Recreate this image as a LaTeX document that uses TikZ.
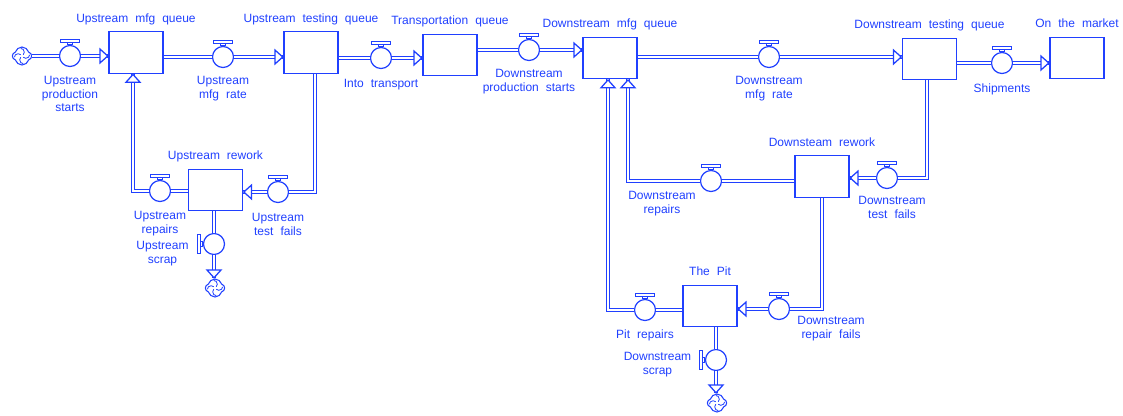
\documentclass[tikz,border=0pt]{standalone}
\usepackage{fontspec}
\setmainfont{Liberation Sans}[WordSpace=2.1]
\usetikzlibrary{arrows.meta,positioning,shapes.symbols,decorations.markings}
\definecolor{flowblue}{RGB}{32,64,255}

\begin{document}
\begin{tikzpicture}[
    x=0.75pt, y=-0.75pt,
    every node/.style={text=flowblue},
    stock/.style={draw=flowblue, line width=0.9pt, minimum width=40.5pt,
                minimum height=31pt, inner sep=0pt},
    valve/.style={circle, draw=flowblue, fill=white, line width=0.9pt,
                minimum size=15.75pt, inner sep=0pt},
    source/.style={cloud, cloud puffs=4, aspect=1, draw=flowblue, line width=0.8pt,
                minimum width=14.5pt, minimum height=13.5pt, inner sep=0pt,
                path picture={\foreach \a in {45,135,225,315}
                  \draw[flowblue, line width=0.6pt] ([shift={(\a:1.3pt)}]path picture bounding box.center)
                    arc[start angle=\a-90, delta angle=130, radius=2.8pt];}},
    lbl/.style={font=\fontsize{9}{10.1}\selectfont, align=center, inner sep=0pt},
    stocklbl/.style={lbl, text height=6.75pt, text depth=2.25pt},
    pipe/.style={draw=flowblue, line width=0.75pt, double=white, double distance=1.6pt},
    tiphead/.style={draw=flowblue, fill=white, line width=0.95pt, line join=miter},
    inflow/.style={pipe, postaction={decorate, decoration={markings,
                mark=at position 1 with {\draw[tiphead] (-0.5pt,0pt) -- (-6.3pt,5.2pt) -- (-6.3pt,-5.2pt) -- cycle;}}}},
    handle/.style={draw=flowblue, line width=0.7pt, fill=white}
]
\useasboundingbox (0,0) rectangle (1123,415);

% stocks
\node[stock] (umq) at (136,52.5) {};
\node[stock] (ust) at (311,52.5) {};
\node[stock] (tq)  at (450,55) {};
\node[stock] (dmq) at (610,58) {};
\node[stock] (dtq) at (929.5,59) {};
\node[stock] (otm) at (1077,58) {};
\node[stock] (urw) at (215.5,190) {};
\node[stock] (drw) at (822,176.5) {};
\node[stock] (pit) at (710,306) {};

\node[stocklbl, above=4.4pt of umq] {Upstream mfg queue};
\node[stocklbl, above=4.4pt of ust] {Upstream testing queue};
\node[stocklbl, above=4.4pt of tq]  {Transportation queue};
\node[stocklbl, above=4.4pt of dmq] {Downstream mfg queue};
\node[stocklbl, above=4.4pt of dtq] {Downstream testing queue};
\node[stocklbl, above=4.4pt of otm] {On the market};
\node[stocklbl, above=4.4pt of urw] {Upstream rework};
\node[stocklbl, above=4.4pt of drw] {Downsteam rework};
\node[stocklbl, above=4.4pt of pit] {The Pit};

% clouds
\node[source] (src)   at (22,56) {};
\node[source] (sink1) at (215,288) {};
\node[source] (sink2) at (717,403) {};

% valves
\node[valve] (ups) at (70,56) {};
\node[valve] (umr) at (223,57) {};
\node[valve] (itr) at (381,58) {};
\node[valve] (dps) at (529,50) {};
\node[valve] (dmr) at (769,57) {};
\node[valve] (shp) at (1002,63) {};
\node[valve] (urp) at (160,191) {};
\node[valve] (utf) at (278,192) {};
\node[valve] (usc) at (214,244) {};
\node[valve] (drp) at (711,181) {};
\node[valve] (dtf) at (887,178) {};
\node[valve] (drf) at (779,309) {};
\node[valve] (prp) at (645,310) {};
\node[valve] (dsc) at (716,360) {};

\foreach \v in {ups,umr,itr,dps,dmr,shp,urp,utf,drp,dtf,drf,prp}
  \draw[handle] ([xshift=-1.9pt]\v.north) rectangle ([xshift=1.9pt, yshift=2.2pt]\v.north)
                ([xshift=-7.1pt, yshift=2.2pt]\v.north) rectangle ([xshift=7.1pt, yshift=4.2pt]\v.north);
\foreach \v in {usc,dsc}
  \draw[handle] ([yshift=-1.9pt]\v.west) rectangle ([xshift=-2.2pt, yshift=1.9pt]\v.west)
                ([xshift=-2.2pt, yshift=-7.1pt]\v.west) rectangle ([xshift=-4.2pt, yshift=7.1pt]\v.west);

\node[lbl, below=6.8pt of ups] {Upstream\\production\\starts};
\node[lbl, below=6.1pt of umr] {Upstream\\mfg rate};
\node[lbl, below=7.6pt of itr] {Into transport};
\node[lbl, below=6.1pt of dps] {Downstream\\production starts};
\node[lbl, below=6.1pt of dmr] {Downstream\\mfg rate};
\node[lbl, below=6.8pt of shp] {Shipments};
\node[lbl, below=6.8pt of urp] {Upstream\\repairs};
\node[lbl, below=7.6pt of utf] {Upstream\\test fails};
\node[lbl, left=10.6pt of usc, yshift=-7.3pt] {Upstream\\scrap};
\node[lbl, below=-0.7pt of drp, xshift=-36.75pt] {Downstream\\repairs};
\node[lbl, below=5.3pt of dtf, xshift=3.75pt] {Downstream\\test fails};
\node[lbl, below=-2.9pt of drf, xshift=39pt] {Downstream\\repair fails};
\node[lbl, below=6.1pt of prp] {Pit repairs};
\node[lbl, left=10.1pt of dsc, yshift=-3.5pt] {Downstream\\scrap};

% main line
\draw[pipe] (src) -- (ups);
\draw[inflow] (ups) -- (ups -| umq.west);
\draw[pipe] (umr -| umq.east) -- (umr);
\draw[inflow] (umr) -- (umr -| ust.west);
\draw[pipe] (itr -| ust.east) -- (itr);
\draw[inflow] (itr) -- (itr -| tq.west);
\draw[pipe] (dps -| tq.east) -- (dps);
\draw[inflow] (dps) -- (dps -| dmq.west);
\draw[pipe] (dmr -| dmq.east) -- (dmr);
\draw[inflow] (dmr) -- (dmr -| dtq.west);
\draw[pipe] (shp -| dtq.east) -- (shp);
\draw[inflow] (shp) -- (shp -| otm.west);

% upstream rework loop
\draw[pipe] ([xshift=3pt]ust.south) |- (utf);
\draw[inflow] (utf) -- (utf -| urw.east);
\draw[pipe] (urp -| urw.west) -- (urp);
\draw[inflow] (urp) -| ([xshift=-2.25pt]umq.south);
\draw[pipe] (urw.south -| usc) -- (usc);
\draw[inflow] (usc) -- (usc |- sink1.north);

% downstream rework loop
\draw[pipe] ([xshift=-1.9pt]dtq.south) |- (dtf);
\draw[inflow] (dtf) -- (dtf -| drw.east);
\draw[pipe] (drp -| drw.west) -- (drp);
\draw[inflow] (drp) -| ([xshift=13.5pt]dmq.south);
\draw[pipe] (drw.south) |- (drf);
\draw[inflow] (drf) -- (drf -| pit.east);
\draw[pipe] (prp -| pit.west) -- (prp);
\draw[inflow] (prp) -| ([xshift=-1.5pt]dmq.south);
\draw[pipe] (pit.south -| dsc) -- (dsc);
\draw[inflow] (dsc) -- (dsc |- sink2.north);

\end{tikzpicture}
\end{document}
